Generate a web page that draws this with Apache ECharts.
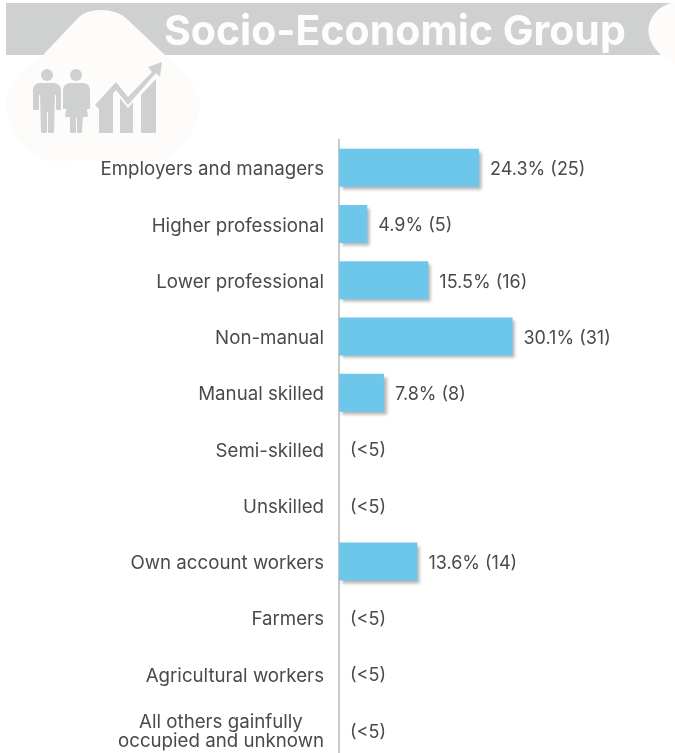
<!DOCTYPE html>
<html><head><meta charset="utf-8">
<style>html,body{margin:0;padding:0;background:#fff;width:675px;height:753px;overflow:hidden}#c{width:675px;height:760px}</style>
<script src="https://cdn.jsdelivr.net/npm/echarts@6/dist/echarts.min.js"></script>
</head><body><div id="c"></div>
<script>
const titleText = 'Socio-Economic Group';
const categories = ['Employers and managers','Higher professional','Lower professional','Non-manual','Manual skilled','Semi-skilled','Unskilled','Own account workers','Farmers','Agricultural workers','All others gainfully\noccupied and unknown'];
const percents = [24.3,4.9,15.5,30.1,7.8,0,0,13.6,0,0,0];
const valueLabels = ['24.3% (25)','4.9% (5)','15.5% (16)','30.1% (31)','7.8% (8)','(<5)','(<5)','13.6% (14)','(<5)','(<5)','(<5)'];
const FONT = 'Inter';
const GREY = '#cfd1d0', CLOUD = '#fdfcfa', TEXT = '#4a4a4a';
const chart = echarts.init(document.getElementById('c'), null, {renderer:'canvas'});
let shapeId = 0;
function deco(pathData, fill, rounded){
  const name = 'deco' + (shapeId++);
  echarts.graphic.registerShape(name, echarts.graphic.extendPath(pathData, {}));
  const style = {fill};
  if (rounded) { style.stroke = fill; style.lineWidth = 2; style.lineJoin = 'round'; }
  return {type:name, style};
}
const manPath = x => `M${x+7} 84 L${x+21} 84 Q${x+27} 85 ${x+27} 90 L${x+27} 109 L${x+24} 109 L${x+24} 94 L${x+21} 94 L${x+20} 132 L${x+16} 132 L${x+16} 111 L${x+13} 111 L${x+13} 132 L${x+9} 132 L${x+8} 94 L${x+5} 94 L${x+5} 109 L${x+1} 109 L${x+1} 90 Q${x+1} 85 ${x+7} 84 Z`;
const womanPath = x => `M${x+7} 84 L${x+20} 84 Q${x+26} 85 ${x+26} 90 L${x+26} 108 L${x+23} 108 L${x+20} 94 L${x+24} 116 L${x+19} 116 L${x+18} 132 L${x+15} 132 L${x+15} 117 L${x+12} 117 L${x+12} 132 L${x+8} 132 L${x+8} 116 L${x+3} 116 L${x+7} 94 L${x+4} 108 L${x+1} 108 L${x+1} 90 Q${x+1} 85 ${x+7} 84 Z`;
chart.setOption({
  animation:false,
  backgroundColor:'#fff',
  title:{text:titleText,left:159,top:7,textStyle:{fontFamily:FONT,fontSize:41,fontWeight:700,color:'#fdfdfb'}},
  grid:{left:339,top:139.5,width:336,height:619,containLabel:false},
  xAxis:{type:'value',min:0,max:58.3,show:false},
  yAxis:{type:'category',inverse:true,data:categories,
    axisLine:{show:true,lineStyle:{color:'#c8caca',width:2}},axisTick:{show:false},splitLine:{show:false},
    axisLabel:{margin:15,fontFamily:FONT,fontSize:18.7,color:TEXT,lineHeight:19,align:'right',padding:[4,0,0,0],
      formatter:v=>{ if(!v.includes('\n')) return v; return v.split('\n').map(s=>`{c|${s}}`).join('\n'); },
      rich:{c:{width:206,align:'center',fontFamily:FONT,fontSize:18.7,color:TEXT,lineHeight:19}}}},
  series:[{type:'bar',data:percents,barWidth:38,
    itemStyle:{color:'#6cc7ea',shadowColor:'rgba(90,90,90,0.45)',shadowBlur:3,shadowOffsetX:3,shadowOffsetY:3},
    label:{show:true,position:'right',distance:11,offset:[0,2],fontFamily:FONT,fontSize:18,color:TEXT,
      formatter:p=>valueLabels[p.dataIndex]}}],
  graphic:{elements:[
    {type:'group',z:-1,silent:true,children:[
      {type:'rect',shape:{x:6,y:3,width:669,height:52},style:{fill:GREY}},
      deco('M675 2 C655 6 646 22 649 36 C652 48 662 58 675 64 Z',CLOUD),
      deco('M43 55 L78 18 C88 7 116 7 128 20 L165 55 C185 70 200 88 200 106 C198 132 180 150 165 160 L45 161 C22 150 6 130 6 103 C8 85 22 68 43 55 Z',CLOUD),
      {type:'circle',shape:{cx:47,cy:75,r:6},style:{fill:GREY}},
      {type:'circle',shape:{cx:76,cy:75,r:6},style:{fill:GREY}},
      deco(manPath(33),GREY,true),
      deco(womanPath(63),GREY,true),
      deco('M99 133 L99 106 L113 92 L113 133 Z',GREY),
      deco('M120 133 L120 98 L128 108 L133 102 L133 133 Z',GREY),
      deco('M141 133 L141 95 L156 79 L156 133 Z',GREY),
      deco('M95 105 L116 82 L128 97 L152 72 L148 67 L162 62 L160 77 L156 73 L128 105 L116 90 L99 109 Z',GREY)
    ]}
  ]}
});
</script></body></html>
